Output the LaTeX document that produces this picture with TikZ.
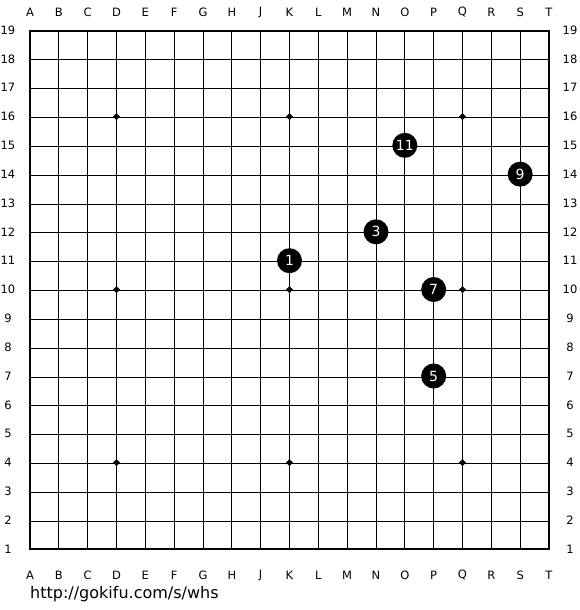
\documentclass[tikz,border=0pt]{standalone}
\usepackage{fontspec}
\setmainfont{DejaVu Sans}
\begin{document}
\begin{tikzpicture}[x=1pt,y=-1pt,
  gridline/.style={line width=0.9pt,black},
  border/.style={line width=2pt,black},
  coordlabel/.style={font=\fontsize{11.5}{13}\selectfont,inner sep=0pt},
  stone/.style={circle,fill=black,minimum size=25pt,inner sep=0pt,text=white,font=\fontsize{14}{15}\selectfont},
  starpt/.style={fill=black}]
\useasboundingbox (0,0) rectangle (580,610);
\fill[white] (0,0) rectangle (580,610);
\def\sp{28.833}
% grid lines
\foreach \i in {1,...,17}{
  \draw[gridline] (30+\i*\sp,31) -- (30+\i*\sp,549);
  \draw[gridline] (30,31+\i*\sp) -- (549,31+\i*\sp);
}
\draw[border] (30,31) rectangle (549,549);
% star points
\foreach \c in {3,9,15}{
  \foreach \r in {3,9,15}{
    \fill[starpt] (30+\c*\sp-3.5,549-\r*\sp) -- (30+\c*\sp,549-\r*\sp-3.5) -- (30+\c*\sp+3.5,549-\r*\sp) -- (30+\c*\sp,549-\r*\sp+3.5) -- cycle;
  }
}
% column labels
\foreach \L [count=\i from 0] in {A,B,C,D,E,F,G,H,J,K,L,M,N,O,P,Q,R,S,T}{
  \node[coordlabel] (top\L) at (30+\i*\sp,12) {\L};
  \node[coordlabel] (bot\L) at (30+\i*\sp,575) {\L};
}
% row labels
\foreach \r in {1,...,19}{
  \node[coordlabel] (left\r) at (8,549-\r*\sp+\sp) {\r};
  \node[coordlabel] (right\r) at (570,549-\r*\sp+\sp) {\r};
}
% stones
\node[stone] (s1) at (30+9*\sp,549-10*\sp) {1};
\node[stone] (s3) at (30+12*\sp,549-11*\sp) {3};
\node[stone] (s5) at (30+14*\sp,549-6*\sp) {5};
\node[stone] (s7) at (30+14*\sp,549-9*\sp) {7};
\node[stone] (s9) at (30+17*\sp,549-13*\sp) {9};
\node[stone] (s11) at (30+13*\sp,549-14*\sp) {11};
% url
\node[anchor=west,inner sep=0pt,font=\fontsize{16}{18}\selectfont] (url) at (30,594) {http://gokifu.com/s/whs};
\end{tikzpicture}
\end{document}
